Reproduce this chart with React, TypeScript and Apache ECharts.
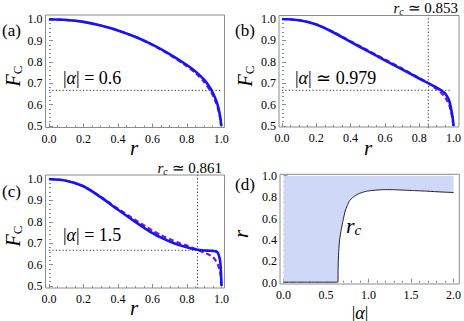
import React, { useEffect, useRef } from "react";
import * as echarts from "echarts";

// Panel (a) |alpha| = 0.6
const rA = [0, 0.1, 0.2, 0.3, 0.4, 0.5, 0.6, 0.7, 0.8, 0.85, 0.9, 0.93, 0.95, 0.97, 0.98, 0.99, 0.995, 1.0];
const fASolid = [1.0, 0.997, 0.988, 0.971, 0.948, 0.918, 0.881, 0.837, 0.786, 0.756, 0.717, 0.685, 0.657, 0.62, 0.595, 0.56, 0.535, 0.5];
const fADashed = [1.0, 0.997, 0.988, 0.971, 0.948, 0.918, 0.88, 0.834, 0.78, 0.748, 0.706, 0.673, 0.645, 0.607, 0.583, 0.55, 0.528, 0.5];

// Panel (b) |alpha| ~ 0.979
const rB = [0, 0.1, 0.2, 0.3, 0.4, 0.5, 0.6, 0.7, 0.8, 0.853, 0.9, 0.93, 0.945, 0.96, 0.975, 0.986, 0.995, 1.0];
const fBSolid = [1.0, 0.994, 0.974, 0.937, 0.893, 0.85, 0.807, 0.765, 0.722, 0.7, 0.68, 0.666, 0.657, 0.642, 0.618, 0.58, 0.54, 0.5];
const fBDashed = [1.0, 0.994, 0.975, 0.939, 0.896, 0.854, 0.811, 0.769, 0.724, 0.7, 0.673, 0.653, 0.64, 0.622, 0.598, 0.565, 0.53, 0.5];

// Panel (c) |alpha| = 1.5
const rC = [0, 0.1, 0.2, 0.3, 0.4, 0.5, 0.6, 0.65, 0.7, 0.75, 0.8, 0.861, 0.9, 0.93, 0.95, 0.97, 0.98, 0.99, 0.995, 1.0];
const fCSolid = [1.0, 0.992, 0.966, 0.915, 0.856, 0.8, 0.747, 0.726, 0.708, 0.693, 0.681, 0.669, 0.666, 0.665, 0.664, 0.661, 0.653, 0.627, 0.592, 0.5];
const fCDashed = [1.0, 0.992, 0.966, 0.917, 0.861, 0.809, 0.759, 0.737, 0.719, 0.703, 0.689, 0.669, 0.655, 0.645, 0.635, 0.614, 0.597, 0.572, 0.552, 0.5];

// Panel (d) critical r_c vs |alpha|
const alphaD = [0, 0.3, 0.6, 0.64, 0.642, 0.645, 0.65, 0.66, 0.68, 0.7, 0.726, 0.75, 0.78, 0.82, 0.88, 0.95, 1.0, 1.1, 1.2, 1.3, 1.5, 1.7, 1.85, 2.0];
const rcD = [0.005, 0.005, 0.005, 0.005, 0.1, 0.21, 0.3, 0.4, 0.5, 0.58, 0.67, 0.72, 0.77, 0.8, 0.83, 0.85, 0.858, 0.866, 0.87, 0.869, 0.862, 0.855, 0.848, 0.843];

const rcB = 0.853;
const rcC = 0.861;
const fRef = 0.667;

const xTicksF = [0, 1, 0.2];
const yTicksF = [0.5, 1, 0.1];
const xTicksD = [0, 2, 0.5];
const yTicksD = [0, 1, 0.2];

const SERIF = "Liberation Serif";
const BLUE = "#1414f5";
const PURPLE = "#7a1ad2";
const FRAME = "#8c8c8c";

type Box = { x0: number; x1: number; y0: number; y1: number; fx0: number; fx1: number; fy0: number; fy1: number };

const boxes: Box[] = [
  { x0: 49, x1: 221.3, y0: 19.3, y1: 126, fx0: 45.5, fx1: 224.5, fy0: 15, fy1: 127.5 },
  { x0: 282, x1: 456, y0: 19, y1: 126, fx0: 279, fx1: 459, fy0: 15.5, fy1: 127 },
  { x0: 49, x1: 221.5, y0: 179, y1: 286, fx0: 45.5, fx1: 224.5, fy0: 175, fy1: 288 },
  { x0: 283.5, x1: 456, y0: 175.7, y1: 282.7, fx0: 280, fx1: 459.3, fy0: 174.3, fy1: 284 },
];

function pairs(xs: number[], ys: number[]) {
  return xs.map((x, i) => [x, ys[i]]);
}

const fnt = (size: number, italic = false) => `${italic ? "italic " : ""}${size}px ${SERIF}`;

export default function App() {
  const ref = useRef<HTMLDivElement>(null);
  useEffect(() => {
    if (!ref.current) return;
    const chart = echarts.init(ref.current, null, { renderer: "svg" });
    const grids = boxes.map((b) => ({
      left: b.x0,
      top: b.y0,
      width: b.x1 - b.x0,
      height: b.y1 - b.y0,
      containLabel: false,
    }));
    const tickStyle = { color: FRAME, width: 1 };
    const labelStyle = { fontFamily: SERIF, fontSize: 12, color: "#000" };
    const mkX = (gi: number, t: number[], minorSplit: number) => ({
      gridIndex: gi,
      type: "value",
      min: t[0],
      max: t[1],
      interval: t[2],
      offset: boxes[gi].fy1 - boxes[gi].y1,
      axisLine: { show: false },
      axisTick: { show: true, inside: true, length: 4, lineStyle: tickStyle },
      minorTick: { show: true, splitNumber: minorSplit, length: 2, lineStyle: tickStyle },
      splitLine: { show: false },
      minorSplitLine: { show: false },
      axisLabel: { ...labelStyle, margin: 5, formatter: (v: number) => v.toFixed(1) },
    });
    const mkY = (gi: number, t: number[], minorSplit: number) => ({
      gridIndex: gi,
      type: "value",
      min: t[0],
      max: t[1],
      interval: t[2],
      offset: boxes[gi].x0 - boxes[gi].fx0,
      axisLine: { show: false },
      axisTick: { show: true, inside: true, length: 4, lineStyle: tickStyle },
      minorTick: { show: true, splitNumber: minorSplit, length: 2, lineStyle: tickStyle },
      splitLine: { show: false },
      minorSplitLine: { show: false },
      axisLabel: { ...labelStyle, margin: 3, formatter: (v: number) => v.toFixed(1) },
    });

    const xAxes = [mkX(0, xTicksF, 4), mkX(1, xTicksF, 4), mkX(2, xTicksF, 4), mkX(3, xTicksD, 5)];
    const yAxes = [mkY(0, yTicksF, 5), mkY(1, yTicksF, 5), mkY(2, yTicksF, 5), mkY(3, yTicksD, 4)];

    const solid = (gi: number, xs: number[], ys: number[]) => ({
      type: "line",
      xAxisIndex: gi,
      yAxisIndex: gi,
      data: pairs(xs, ys),
      showSymbol: false,
      smooth: 0.25,
      lineStyle: { color: BLUE, width: 2.6 },
      z: 4,
    });
    const dashed = (gi: number, xs: number[], ys: number[]) => ({
      type: "line",
      xAxisIndex: gi,
      yAxisIndex: gi,
      data: pairs(xs, ys),
      showSymbol: false,
      smooth: 0.25,
      lineStyle: { color: PURPLE, width: 2.2, type: [5, 3] },
      z: 3,
    });
    const dotted = (gi: number, data: number[][]) => ({
      type: "line",
      xAxisIndex: gi,
      yAxisIndex: gi,
      data,
      showSymbol: false,
      clip: false,
      silent: true,
      lineStyle: { color: "#333", width: 1, type: [1.2, 2.2] },
      z: 2,
    });

    const series: any[] = [
      dotted(0, [[-0.02, fRef], [1.0, fRef]]),
      dashed(0, rA, fADashed),
      solid(0, rA, fASolid),
      dotted(1, [[-0.02, fRef], [0.98, fRef]]),
      dotted(1, [[rcB, 0.49], [rcB, 1.02]]),
      dashed(1, rB, fBDashed),
      solid(1, rB, fBSolid),
      dotted(2, [[-0.02, fRef], [0.98, fRef]]),
      dotted(2, [[rcC, 0.49], [rcC, 1.02]]),
      dashed(2, rC, fCDashed),
      solid(2, rC, fCSolid),
      {
        type: "line",
        xAxisIndex: 3,
        yAxisIndex: 3,
        data: pairs(alphaD, rcD),
        showSymbol: false,
        smooth: 0.2,
        lineStyle: { color: "#222", width: 1 },
        areaStyle: { color: "#cfd8f6", opacity: 1, origin: "end" },
        z: 2,
      },
    ];

    const frames = boxes.map((b) => ({
      type: "rect",
      shape: { x: b.fx0, y: b.fy0, width: b.fx1 - b.fx0, height: b.fy1 - b.fy0 },
      style: { fill: "none", stroke: FRAME, lineWidth: 1 },
      z: 10,
      silent: true,
    }));
    const txt = (x: number, y: number, text: string, align: string, rich?: any, size = 17, rotation = 0) => ({
      type: "text",
      z: 20,
      x,
      y,
      rotation,
      style: {
        x: 0,
        y: 0,
        text,
        textAlign: align,
        textVerticalAlign: "middle",
        font: fnt(size),
        fill: "#000",
        rich,
      },
    });
    const richAlpha = {
      n: { font: fnt(18), fill: "#000" },
      i: { font: fnt(18, true), fill: "#000" },
    };
    const richRc = {
      i: { font: fnt(15, true), fill: "#000" },
      s: { font: fnt(10, true), fill: "#000", padding: [6, 0, 0, 0] },
      n: { font: fnt(15), fill: "#000" },
    };
    const richRcBig = {
      i: { font: fnt(22, true), fill: "#000" },
      s: { font: fnt(15, true), fill: "#000", padding: [9, 0, 0, 0] },
    };
    const richF = {
      i: { font: fnt(20, true), fill: "#000" },
      s: { font: fnt(13), fill: "#000", padding: [8, 0, 0, 0] },
    };
    const richR = { i: { font: fnt(21, true), fill: "#000" } };
    const richAbsA = { n: { font: fnt(18), fill: "#000" }, i: { font: fnt(18, true), fill: "#000" } };
    const texts = [
      txt(2, 30, "(a)", "left", undefined, 17),
      txt(235, 30, "(b)", "left", undefined, 17),
      txt(2, 191, "(c)", "left", undefined, 17),
      txt(235, 184, "(d)", "left", undefined, 17),
      txt(63, 78, "{n||}{i|α}{n|| = 0.6}", "left", richAlpha),
      txt(295, 78, "{n||}{i|α}{n|| ≃ 0.979}", "left", richAlpha),
      txt(63, 235, "{n||}{i|α}{n|| = 1.5}", "left", richAlpha),
      txt(458, 8, "{i|r}{s|c}{n| ≃ 0.853}", "right", richRc),
      txt(222, 168, "{i|r}{s|c}{n| ≃ 0.861}", "right", richRc),
      txt(346, 225, "{i|r}{s|c}", "left", richRcBig),
      // axis titles
      txt(13, 76, "{i|F}{s|C}", "center", richF, 20, Math.PI / 2),
      txt(245, 76, "{i|F}{s|C}", "center", richF, 20, Math.PI / 2),
      txt(13, 236, "{i|F}{s|C}", "center", richF, 20, Math.PI / 2),
      txt(241, 234, "{i|r}", "center", richR, 21, Math.PI / 2),
      txt(134, 148, "{i|r}", "center", richR, 21),
      txt(368, 148, "{i|r}", "center", richR, 21),
      txt(134, 308, "{i|r}", "center", richR, 21),
      txt(360, 312.5, "{n||}{i|α}{n||}", "center", richAbsA, 18),
    ];

    chart.setOption({
      animation: false,
      backgroundColor: "#fff",
      grid: grids,
      xAxis: xAxes,
      yAxis: yAxes,
      series,
      graphic: [...frames, ...texts],
    });
    return () => chart.dispose();
  }, []);
  return <div ref={ref} style={{ width: 464, height: 321, position: "absolute", left: 0, top: 0 }} />;
}
